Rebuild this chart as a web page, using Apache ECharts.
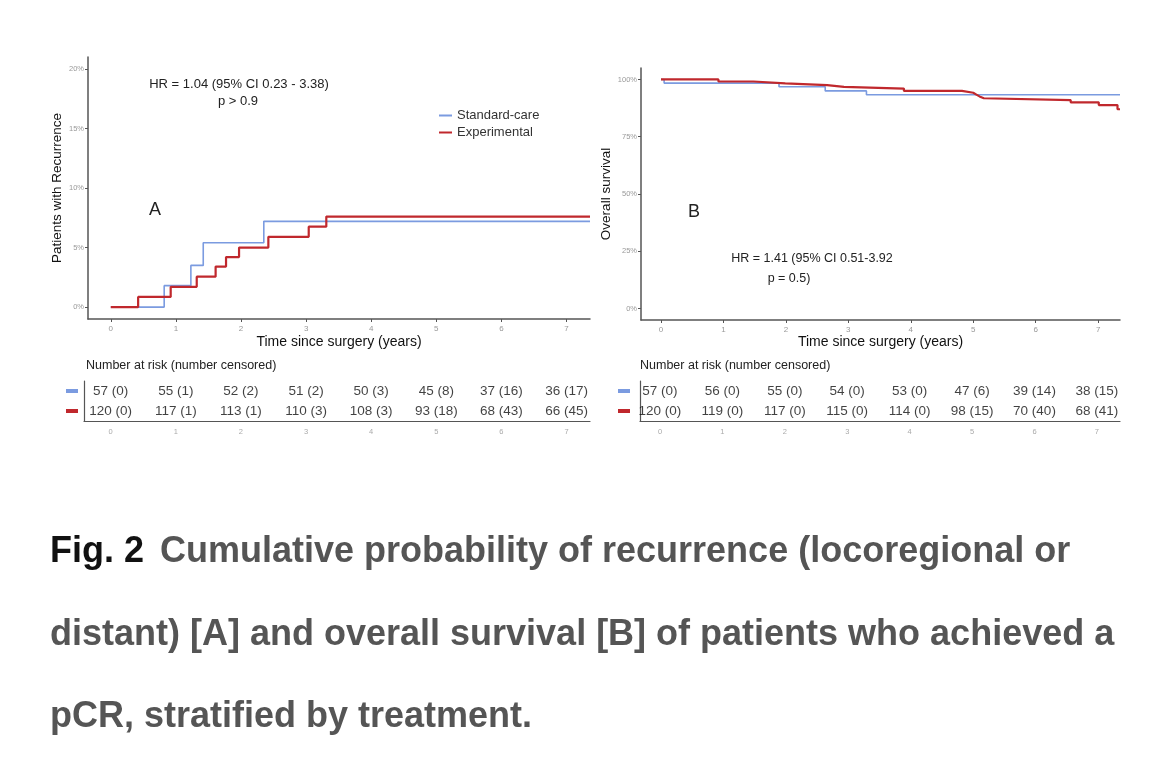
<!DOCTYPE html>
<html>
<head>
<meta charset="utf-8">
<script src="https://cdn.jsdelivr.net/npm/echarts@6/dist/echarts.min.js"></script>
<style>
html,body{margin:0;padding:0;background:#fff;}
#main{width:1170px;height:758px;}
</style>
</head>
<body>
<div id="main"></div>
<script>
// A: cumulative recurrence (%), step times in years
const recStdTimes = [0, 0.82, 1.23, 1.42, 2.35, 7.36];
const recStdPct   = [0, 1.8, 3.5, 5.4, 7.2, 7.2];
const recExpTimes = [0, 0.42, 0.92, 1.32, 1.61, 1.77, 1.97, 2.42, 3.04, 3.31, 7.36];
const recExpPct   = [0, 0.85, 1.7, 2.55, 3.4, 4.2, 5.0, 5.9, 6.75, 7.6, 7.6];

// B: overall survival (%)
const osStdTimes = [0, 0.05, 1.89, 2.63, 3.29, 7.35];
const osStdPct   = [100, 98.4, 96.8, 95.0, 93.3, 93.3];
const osExpTimes = [0, 0.92, 1.48, 1.99, 2.66, 2.93, 3.89, 4.82, 5.0, 5.05, 5.1, 5.17, 6.56, 7.01, 7.31, 7.35];
const osExpPct   = [100, 99.1, 98.3, 97.5, 96.8, 96.0, 95.0, 94.2, 93.4, 92.6, 91.8, 91.0, 90.0, 88.8, 87.0, 87.0];

// number at risk tables
const riskTimes = [0, 1, 2, 3, 4, 5, 6, 7];
const recStdRisk = [57, 55, 52, 51, 50, 45, 37, 36];
const recStdCens = [0, 1, 2, 2, 3, 8, 16, 17];
const recExpRisk = [120, 117, 113, 110, 108, 93, 68, 66];
const recExpCens = [0, 1, 1, 3, 3, 18, 43, 45];
const osStdRisk = [57, 56, 55, 54, 53, 47, 39, 38];
const osStdCens = [0, 0, 0, 0, 0, 6, 14, 15];
const osExpRisk = [120, 119, 117, 115, 114, 98, 70, 68];
const osExpCens = [0, 0, 0, 0, 0, 15, 40, 41];

const groups = ['Standard-care', 'Experimental'];
const recTicks = [0, 5, 10, 15, 20];
const osTicks = [0, 25, 50, 75, 100];

const blue = '#7b9be0';
const red = '#c0282d';
const axisCol = '#555';
const font = '"Liberation Sans", Arial, sans-serif';

function zip(ts, vs) {
  return ts.map((t, i) => [t, vs[i]]);
}

function riskData(risk, cens, row) {
  return riskTimes.map((t, i) => ({ value: [t, row], name: risk[i] + ' (' + cens[i] + ')' }));
}

function kmLine(name, data, color, width, idx) {
  return {
    type: 'line', name: name, step: 'end', symbol: 'none',
    xAxisIndex: idx, yAxisIndex: idx, data: data,
    lineStyle: { color: color, width: width }, itemStyle: { color: color }
  };
}

function riskSeries(name, data, idx) {
  return {
    type: 'scatter', name: name + ' risk', xAxisIndex: idx, yAxisIndex: idx,
    symbolSize: 1, itemStyle: { color: 'rgba(0,0,0,0)' }, data: data,
    label: { show: true, position: 'inside', formatter: '{b}', color: '#111', fontSize: 13.5, fontFamily: font }
  };
}

function plotX(idx, min, max, nameGap) {
  return {
    type: 'value', gridIndex: idx, min: min, max: max,
    name: 'Time since surgery (years)', nameLocation: 'middle', nameGap: nameGap,
    nameTextStyle: { fontSize: 14, color: '#111', fontFamily: font },
    axisLine: { show: true, onZero: false, lineStyle: { color: axisCol, width: 1.5 } },
    axisTick: { show: true, length: 3, customValues: riskTimes, lineStyle: { color: axisCol } },
    axisLabel: { customValues: riskTimes, fontSize: 8, color: '#999', margin: 6, fontFamily: font },
    splitLine: { show: false }
  };
}

function plotY(idx, min, max, ticks, name, nameGap) {
  return {
    type: 'value', gridIndex: idx, min: min, max: max,
    name: name, nameLocation: 'middle', nameGap: nameGap,
    nameTextStyle: { fontSize: 13.5, color: '#111', fontFamily: font },
    axisLine: { show: true, onZero: false, lineStyle: { color: axisCol, width: 1.5 } },
    axisTick: { show: true, length: 3, customValues: ticks, lineStyle: { color: axisCol } },
    axisLabel: { customValues: ticks, formatter: '{value}%', fontSize: 7.5, color: '#999', margin: 4, fontFamily: font },
    splitLine: { show: false }
  };
}

function tableX(idx, min, max) {
  return {
    type: 'value', gridIndex: idx, min: min, max: max,
    axisLine: { show: true, onZero: false, lineStyle: { color: axisCol, width: 1.2 } },
    axisTick: { show: false },
    axisLabel: { customValues: riskTimes, fontSize: 7.5, color: '#aaa', margin: 7, fontFamily: font },
    splitLine: { show: false }
  };
}

function tableY(idx, margin) {
  return {
    type: 'category', gridIndex: idx, data: groups, inverse: true,
    axisLine: { show: true, onZero: false, lineStyle: { color: axisCol, width: 1.2 } },
    axisTick: { show: false },
    axisLabel: {
      margin: margin,
      formatter: v => v === groups[0] ? '{s|}' : '{e|}',
      rich: {
        s: { width: 12, height: 4, backgroundColor: blue },
        e: { width: 12, height: 4, backgroundColor: red }
      }
    }
  };
}

function txt(text, x, y, size, opts) {
  return {
    type: 'text', x: x, y: y, silent: true,
    style: Object.assign({ text: text, font: size + 'px ' + font, fill: '#222', align: 'center', verticalAlign: 'middle' }, opts || {})
  };
}

const chart = echarts.init(document.getElementById('main'));

chart.setOption({
  animation: false,
  backgroundColor: '#fff',
  grid: [
    { left: 88, top: 57, width: 502, height: 262 },
    { left: 641, top: 68, width: 479, height: 252 },
    { left: 84, top: 381, width: 506, height: 40 },
    { left: 640, top: 381, width: 480, height: 40 }
  ],
  xAxis: [
    plotX(0, -0.35, 7.36, 16),
    plotX(1, -0.32, 7.35, 15),
    tableX(2, -0.41, 7.36),
    tableX(3, -0.32, 7.37)
  ],
  yAxis: [
    plotY(0, -1, 21, recTicks, 'Patients with Recurrence', 24),
    plotY(1, -5, 105, osTicks, 'Overall survival', 28),
    tableY(2, 6),
    tableY(3, 10)
  ],
  legend: {
    data: groups, orient: 'vertical', left: 434, top: 104, itemGap: 4,
    icon: 'rect', itemWidth: 13, itemHeight: 2,
    textStyle: { fontSize: 13, color: '#333', fontFamily: font }
  },
  series: [
    kmLine(groups[0], zip(recStdTimes, recStdPct), blue, 1.6, 0),
    kmLine(groups[1], zip(recExpTimes, recExpPct), red, 2.2, 0),
    kmLine(groups[0], zip(osStdTimes, osStdPct), blue, 1.6, 1),
    kmLine(groups[1], zip(osExpTimes, osExpPct), red, 2.2, 1),
    riskSeries('rec std', riskData(recStdRisk, recStdCens, groups[0]), 2),
    riskSeries('rec exp', riskData(recExpRisk, recExpCens, groups[1]), 2),
    riskSeries('os std', riskData(osStdRisk, osStdCens, groups[0]), 3),
    riskSeries('os exp', riskData(osExpRisk, osExpCens, groups[1]), 3)
  ],
  graphic: [
    txt('HR = 1.04 (95% CI 0.23 - 3.38)', 239, 84, 13),
    txt('p > 0.9', 238, 101, 13),
    txt('A', 155, 210, 18),
    txt('B', 694, 212, 18),
    txt('HR = 1.41 (95% CI 0.51-3.92', 812, 259, 12.5),
    txt('p = 0.5)', 789, 279, 12.5),
    txt('Number at risk (number censored)', 86, 366, 12.5, { align: 'left' }),
    txt('Number at risk (number censored)', 640, 366, 12.5, { align: 'left' }),
    {
      type: 'text', x: 50, y: 552, silent: true,
      style: {
        text: '{k|Fig. 2}{g|Cumulative probability of recurrence (locoregional or}',
        verticalAlign: 'middle',
        rich: {
          k: { font: 'bold 36px ' + font, fill: '#111', width: 110 },
          g: { font: 'bold 36px ' + font, fill: '#555' }
        }
      }
    },
    txt('distant) [A] and overall survival [B] of patients who achieved a', 50, 635, 36, { align: 'left', fill: '#555', font: 'bold 36px ' + font }),
    txt('pCR, stratified by treatment.', 50, 717, 36, { align: 'left', fill: '#555', font: 'bold 36px ' + font })
  ]
});
</script>
</body>
</html>
